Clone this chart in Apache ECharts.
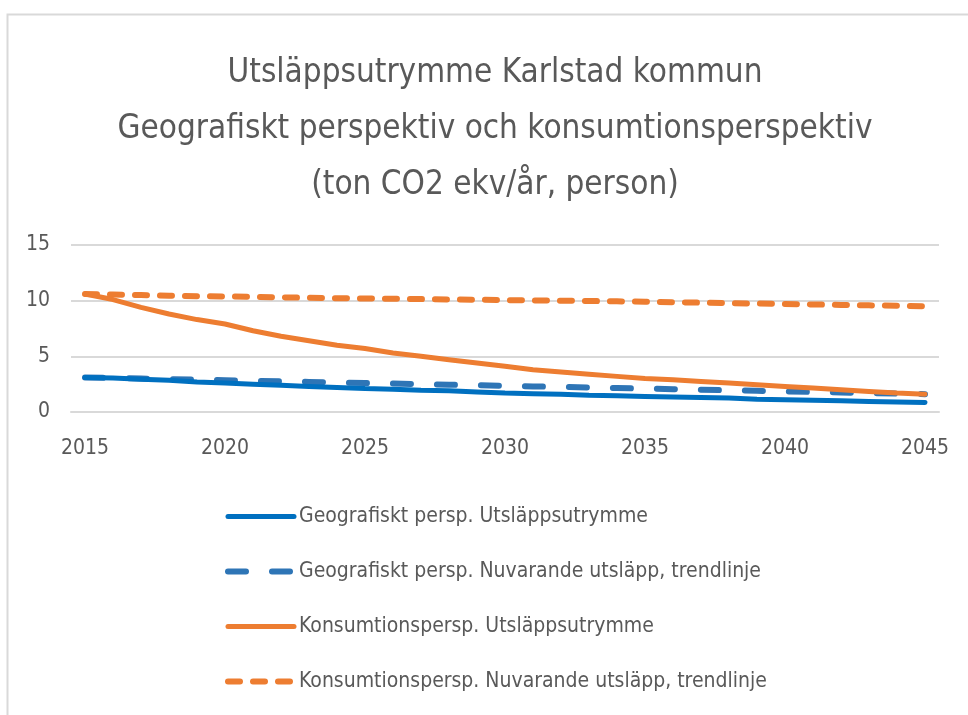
<!DOCTYPE html>
<html>
<head>
<meta charset="utf-8">
<script src="https://cdn.jsdelivr.net/npm/echarts@6/dist/echarts.min.js"></script>
<style>
html,body{margin:0;padding:0;background:#fff;}
#chart{width:968px;height:715px;}
</style>
</head>
<body>
<div id="chart"></div>
<script>
var years = ['2015','2016','2017','2018','2019','2020','2021','2022','2023','2024','2025','2026','2027','2028','2029','2030','2031','2032','2033','2034','2035','2036','2037','2038','2039','2040','2041','2042','2043','2044','2045'];
var yTicks = [0, 5, 10, 15];
var seriesNames = [
  'Geografiskt persp. Utsläppsutrymme',
  'Geografiskt persp. Nuvarande utsläpp, trendlinje',
  'Konsumtionspersp. Utsläppsutrymme',
  'Konsumtionspersp. Nuvarande utsläpp, trendlinje'
];
var geoSpace = [3.1,3.05,2.95,2.85,2.7,2.6,2.5,2.4,2.3,2.2,2.1,2.05,1.95,1.9,1.8,1.7,1.65,1.6,1.5,1.45,1.4,1.35,1.3,1.25,1.15,1.1,1.05,1.0,0.95,0.9,0.85];
var geoTrend = [3.1,3.05,3.0,2.95,2.9,2.85,2.8,2.75,2.7,2.65,2.6,2.55,2.5,2.45,2.4,2.35,2.3,2.25,2.2,2.15,2.1,2.05,2.0,1.95,1.9,1.85,1.8,1.75,1.7,1.65,1.6];
var konsSpace = [10.6,10.1,9.4,8.8,8.3,7.9,7.3,6.8,6.4,6.0,5.7,5.3,5.0,4.7,4.4,4.1,3.8,3.6,3.4,3.2,3.0,2.9,2.75,2.6,2.45,2.3,2.15,2.0,1.85,1.7,1.6];
var konsTrend = [10.6,10.55,10.5,10.45,10.4,10.38,10.34,10.3,10.26,10.22,10.2,10.17,10.14,10.11,10.08,10.05,10.02,10.0,9.97,9.94,9.9,9.86,9.82,9.78,9.74,9.7,9.66,9.62,9.58,9.54,9.5];

var FONT = "'Liberation Sans Narrow','DejaVu Sans Condensed','Open Sans',sans-serif";
var chart = echarts.init(document.getElementById('chart'), null, {renderer:'canvas'});
chart.setOption({
  backgroundColor: '#ffffff',
  animation: false,
  graphic: [{
    type: 'rect', left: 5, top: 12, z: -1,
    shape: {width: 1000, height: 800},
    style: {fill: 'none', stroke: '#d9d9d9', lineWidth: 2}
  }],
  title: {
    text: 'Utsläppsutrymme Karlstad kommun\nGeografiskt perspektiv och konsumtionsperspektiv\n(ton CO2 ekv/år, person)',
    left: 490, top: 40, textAlign: 'center',
    textStyle: {fontFamily: FONT, fontSize: 33, fontWeight: 'normal', color: '#595959', lineHeight: 56}
  },
  grid: {left: 71, right: 29, top: 245, bottom: 303, containLabel: false},
  xAxis: {
    type: 'category', data: years, boundaryGap: true,
    axisLine: {show: true, lineStyle: {color: '#d9d9d9', width: 2}},
    axisTick: {show: false},
    axisLabel: {interval: 4, margin: 26, fontFamily: FONT, fontSize: 21, color: '#595959'}
  },
  yAxis: {
    type: 'value', min: yTicks[0], max: yTicks[yTicks.length-1], interval: 5,
    axisLine: {show: false}, axisTick: {show: false},
    axisLabel: {margin: 21, fontFamily: FONT, fontSize: 21, color: '#595959'},
    splitLine: {lineStyle: {color: '#d9d9d9', width: 2}}
  },
  legend: {
    orient: 'vertical', left: 225, top: 506, padding: 0,
    itemWidth: 66, itemHeight: 8, itemGap: 34,
    itemStyle: {opacity: 0},
    lineStyle: {width: 'inherit', cap: 'round'},
    textStyle: {fontFamily: FONT, fontSize: 21, color: '#595959'},
    data: seriesNames
  },
  series: [
    {name: seriesNames[0], type: 'line', data: geoSpace, symbol: 'none', z: 3,
     lineStyle: {color: '#0070C0', width: 5, cap: 'round'}, itemStyle: {color: '#0070C0'}},
    {name: seriesNames[1], type: 'line', data: geoTrend, symbol: 'none', z: 2,
     lineStyle: {color: '#2E75B6', width: 6, type: [18, 26], cap: 'round'}, itemStyle: {color: '#2E75B6'}},
    {name: seriesNames[2], type: 'line', data: konsSpace, symbol: 'none', z: 4,
     lineStyle: {color: '#ED7D31', width: 5, cap: 'round'}, itemStyle: {color: '#ED7D31'}},
    {name: seriesNames[3], type: 'line', data: konsTrend, symbol: 'none', z: 2,
     lineStyle: {color: '#ED7D31', width: 6, type: [12, 13], cap: 'round'}, itemStyle: {color: '#ED7D31'}}
  ]
});
</script>
</body>
</html>
